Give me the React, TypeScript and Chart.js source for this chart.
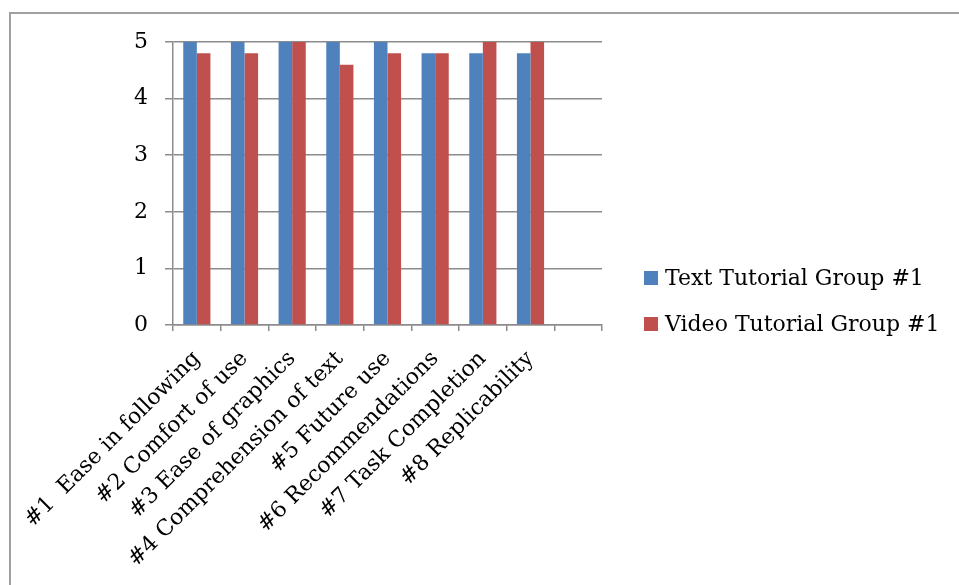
import React, { useEffect, useRef } from "react";
import { Chart, registerables } from "chart.js";

Chart.register(...registerables);

const categories = [
  "#1  Ease in following",
  "#2 Comfort of use",
  "#3 Ease of graphics",
  "#4 Comprehension of text",
  "#5 Future use",
  "#6 Recommendations",
  "#7 Task Completion",
  "#8 Replicability",
  "",
];
const textTutorial = [5, 5, 5, 5, 5, 4.8, 4.8, 4.8];
const videoTutorial = [4.8, 4.8, 5, 4.6, 4.8, 4.8, 5, 5];
const seriesNames = ["Text Tutorial Group #1", "Video Tutorial Group #1"];
const seriesColors = ["#4F81BD", "#C0504D"];
const yTicks = [0, 1, 2, 3, 4, 5];

const FONT = "'DejaVu Serif', serif";
const GRID = "#8c8c8c";

const legendPlugin = {
  id: "customLegend",
  afterDraw(chart: any) {
    const ctx = chart.ctx;
    ctx.save();
    ctx.font = `22px ${FONT}`;
    ctx.textBaseline = "middle";
    ctx.textAlign = "left";
    const ys = [278, 324];
    chart.data.datasets.forEach((ds: any, i: number) => {
      const y = ys[i];
      ctx.fillStyle = ds.backgroundColor;
      ctx.fillRect(644, y - 7, 14, 14);
      ctx.fillStyle = "#000";
      ctx.fillText(ds.label, 665, y + 1);
    });
    ctx.restore();
  },
};

export default function App() {
  const ref = useRef<HTMLCanvasElement>(null);
  useEffect(() => {
    if (!ref.current) return;
    const chart = new Chart(ref.current, {
      type: "bar",
      data: {
        labels: categories,
        datasets: [
          {
            label: seriesNames[0],
            data: textTutorial,
            backgroundColor: seriesColors[0],
            barPercentage: 1,
            categoryPercentage: 0.57,
          },
          {
            label: seriesNames[1],
            data: videoTutorial,
            backgroundColor: seriesColors[1],
            barPercentage: 1,
            categoryPercentage: 0.57,
          },
        ],
      },
      options: {
        responsive: false,
        animation: false,
        devicePixelRatio: 1,
        layout: { padding: { left: 0, top: 42, right: 357, bottom: 0 } },
        plugins: { legend: { display: false }, tooltip: { enabled: false } },
        scales: {
          x: {
            offset: true,
            grid: {
              offset: true,
              drawOnChartArea: false,
              drawTicks: true,
              tickLength: 6,
              color: GRID,
              lineWidth: 1.5,
            },
            border: { display: true, color: GRID, width: 1.5 },
            ticks: {
              autoSkip: false,
              minRotation: 45,
              maxRotation: 45,
              padding: 15,
              color: "#000",
              font: { family: FONT, size: 22 },
            },
            afterFit(scale: any) {
              scale.height = 260;
            },
          },
          y: {
            min: 0,
            max: 5,
            afterBuildTicks(scale: any) {
              scale.ticks = yTicks.map((v) => ({ value: v }));
            },
            grid: {
              color: GRID,
              lineWidth: 1.5,
              drawTicks: true,
              tickLength: 8,
            },
            border: { display: true, color: GRID, width: 1.5 },
            ticks: {
              padding: 17,
              color: "#000",
              font: { family: FONT, size: 22 },
            },
            afterFit(scale: any) {
              scale.width = 173;
            },
          },
        },
      },
      plugins: [legendPlugin],
    });
    return () => chart.destroy();
  }, []);

  return (
    <div>
      <div
        style={{
          position: "fixed",
          left: 9,
          top: 12,
          width: 960,
          height: 580,
          borderTop: "2px solid #a0a0a0",
          borderLeft: "2px solid #a0a0a0",
          boxSizing: "border-box",
        }}
      />
      <canvas
        ref={ref}
        width={959}
        height={585}
        style={{ position: "fixed", left: 0, top: 0, width: 959, height: 585 }}
      />
    </div>
  );
}
